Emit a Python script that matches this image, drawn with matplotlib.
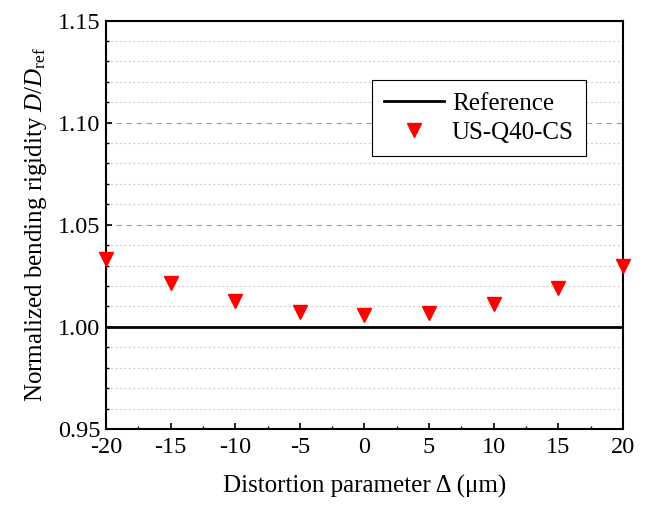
import matplotlib
matplotlib.use("Agg")
import matplotlib.pyplot as plt
from matplotlib.ticker import MultipleLocator, FormatStrFormatter

plt.rcParams['font.family'] = ['Liberation Serif', 'DejaVu Serif']
plt.rcParams['mathtext.fontset'] = 'custom'
plt.rcParams['mathtext.rm'] = 'Liberation Serif'
plt.rcParams['mathtext.it'] = 'Liberation Serif:italic'
plt.rcParams['axes.unicode_minus'] = False

distortion = [-20, -15, -10, -5, 0, 5, 10, 15, 20]
rigidity = [1.0333, 1.0214, 1.0127, 1.0075, 1.0057, 1.0070, 1.0114, 1.0191, 1.0296]
ref_x = [-20, 20]
ref_y = [1.0, 1.0]

fig = plt.figure(figsize=(6.46, 5.05), dpi=100)
ax = fig.add_axes([0.164, 0.1505, 0.8004, 0.8089])

ax.set_xlim(-20, 20)
ax.set_ylim(0.95, 1.15)
ax.xaxis.set_major_locator(MultipleLocator(5))
ax.xaxis.set_minor_locator(MultipleLocator(2.5))
ax.yaxis.set_major_locator(MultipleLocator(0.05))
ax.yaxis.set_minor_locator(MultipleLocator(0.01))
ax.yaxis.set_major_formatter(FormatStrFormatter('%.2f'))

ax.grid(True, which='major', axis='y', color='#a0a0a0', linestyle=(0, (5, 4)), linewidth=0.8)
ax.grid(True, which='minor', axis='y', color='#cfcfcf', linestyle=(0, (2, 2)), linewidth=0.8)
ax.set_axisbelow(True)

ax.tick_params(which='both', direction='in', top=False, right=False, labelsize=17.5)
ax.tick_params(which='major', length=4, width=1.2)
ax.tick_params(axis='x', which='major', pad=6)
ax.tick_params(axis='y', which='major', pad=4)
ax.tick_params(which='minor', length=2.5, width=1.0)
for s in ax.spines.values():
    s.set_linewidth(1.5)

ax.plot(ref_x, ref_y, color='black', linewidth=2, label='Reference', zorder=3)
ax.plot(distortion, rigidity, linestyle='none', marker='v', color='red',
        markersize=9.5, label='US-Q40-CS', clip_on=False, zorder=4)

ax.set_xlabel('Distortion parameter \u0394 (\u03bcm)', fontsize=18, labelpad=12)
ax.set_ylabel('Normalized bending rigidity $D$/$D_{\\rm ref}$', fontsize=18, labelpad=6)

leg = ax.legend(loc='upper left', bbox_to_anchor=(0.49, 0.885), fontsize=18,
                frameon=True, fancybox=False, edgecolor='black', framealpha=1,
                handlelength=2.4, handletextpad=0.3, borderpad=0.5, labelspacing=0.25)
leg.get_frame().set_linewidth(0.8)

fig.savefig('out.png', dpi=100)
